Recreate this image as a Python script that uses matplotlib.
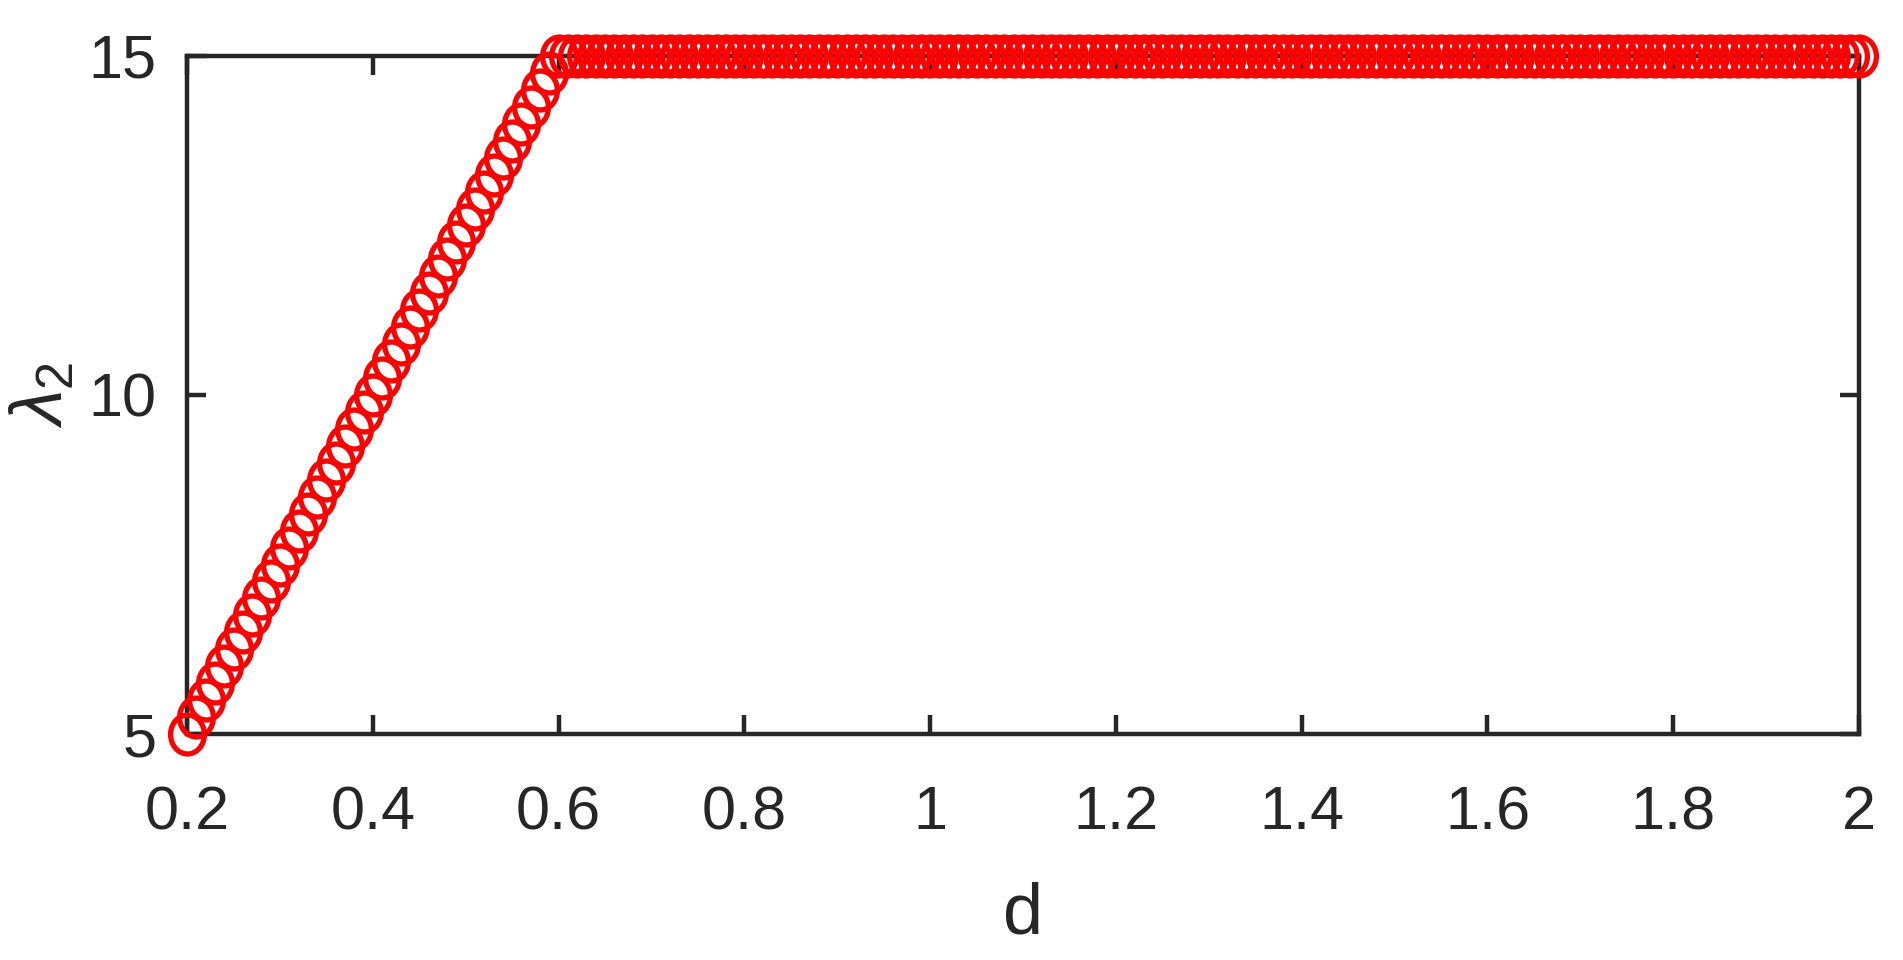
import matplotlib.pyplot as plt
import numpy as np
from matplotlib.path import Path
from matplotlib.transforms import Affine2D

plt.rcParams["font.family"] = ["Liberation Sans", "DejaVu Sans"]
plt.rcParams["mathtext.fontset"] = "custom"
plt.rcParams["mathtext.rm"] = "Liberation Sans"
plt.rcParams["mathtext.it"] = "Liberation Sans:italic"

# data: lambda_2 against d (linear rise, then saturates at 15)
d = np.round(np.arange(0.2, 2.0001, 0.01), 2)
lam_rise_start = 5.0
lam_cap = 15.0
lam_slope = 25.0
lam2 = np.minimum(lam_rise_start + lam_slope * (d - 0.2), lam_cap)

xticks = [0.2, 0.4, 0.6, 0.8, 1, 1.2, 1.4, 1.6, 1.8, 2]
xticklabels = ["0.2", "0.4", "0.6", "0.8", "1", "1.2", "1.4", "1.6", "1.8", "2"]
yticks = [5, 10, 15]

fig = plt.figure(figsize=(19.03, 9.6), dpi=100)
ax = fig.add_axes([0.0983, 0.2354, 0.8786, 0.7063])

# the exported figure squashed the circles a little horizontally
oval = Path.unit_circle().transformed(Affine2D().scale(0.87, 1.0))
ax.plot(d, lam2, linestyle="none", marker=oval, markersize=28, markerfacecolor="none",
        markeredgecolor="#ff0000", markeredgewidth=3.8, clip_on=False, zorder=3)

ax.set_xlim(0.2, 2)
ax.set_ylim(5, 15)
ax.set_xticks(xticks)
ax.set_xticklabels(xticklabels)
ax.set_yticks(yticks)

dark = "#262626"
for s in ax.spines.values():
    s.set_linewidth(3.2)
    s.set_color(dark)
ax.tick_params(direction="in", length=14, width=3.2, color=dark, labelcolor=dark,
               labelsize=44, top=True, right=True)
ax.tick_params(axis="x", pad=37)
ax.tick_params(axis="y", pad=22)

ax.set_xlabel("d", fontsize=52, color=dark, labelpad=28)
ax.set_ylabel(r"$\lambda_2$", fontsize=52, color=dark, labelpad=8)

plt.savefig("out.png", dpi=100, facecolor="white")
